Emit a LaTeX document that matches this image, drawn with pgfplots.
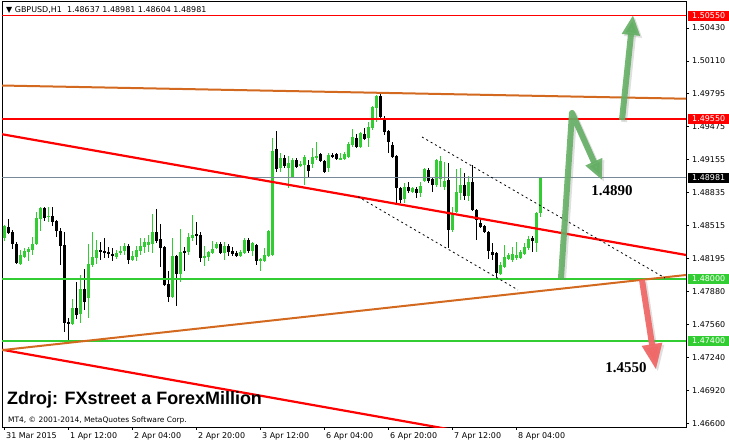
\documentclass[border=0pt]{standalone}
\usepackage{fontspec}
\setmainfont{DejaVu Sans}
\newfontfamily\arialfont{Liberation Sans}
\newfontfamily\timesfont{Liberation Serif}
\usepackage{pgfplots}
\pgfplotsset{compat=1.18}
\usepackage{pgfplotstable}
\usetikzlibrary{arrows.meta}

\definecolor{mtgreen}{RGB}{50,205,50}
\definecolor{mtred}{RGB}{255,0,0}
\definecolor{mtorange}{RGB}{210,105,30}
\definecolor{mtgray}{RGB}{119,136,153}
\definecolor{arrgreen}{RGB}{100,175,100}
\definecolor{arrred}{RGB}{240,105,105}

% GBPUSD H1 bars, bar index i, open high low close
\pgfplotstableread{
i o h l c
0 1.48396 1.48522 1.48366 1.48512
4 1.48143 1.48279 1.48134 1.48231
5 1.48211 1.48299 1.48202 1.48269
6 1.48260 1.48308 1.48172 1.48289
7 1.48279 1.48405 1.48231 1.48337
8 1.48337 1.48648 1.48328 1.48590
9 1.48580 1.48696 1.48463 1.48686
11 1.48599 1.48696 1.48551 1.48609
17 1.47563 1.47805 1.47553 1.47718
19 1.47660 1.48037 1.47572 1.47902
21 1.47814 1.48337 1.47620 1.48143
22 1.48134 1.48454 1.48114 1.48211
23 1.48202 1.48376 1.48143 1.48279
28 1.48211 1.48279 1.48192 1.48250
29 1.48260 1.48318 1.48231 1.48269
30 1.48269 1.48347 1.48231 1.48318
32 1.48182 1.48269 1.48172 1.48221
33 1.48211 1.48318 1.48172 1.48279
34 1.48269 1.48396 1.48231 1.48318
35 1.48308 1.48396 1.48250 1.48357
36 1.48328 1.48425 1.48260 1.48357
37 1.48337 1.48628 1.48250 1.48454
42 1.47824 1.48396 1.47814 1.48221
44 1.48047 1.48483 1.47970 1.48260
46 1.48260 1.48444 1.48231 1.48405
47 1.48396 1.48619 1.48366 1.48425
50 1.48202 1.48318 1.48124 1.48221
51 1.48211 1.48269 1.48172 1.48260
52 1.48250 1.48366 1.48240 1.48289
53 1.48299 1.48357 1.48289 1.48337
55 1.48250 1.48357 1.48182 1.48318
59 1.48221 1.48279 1.48211 1.48260
60 1.48250 1.48396 1.48240 1.48376
62 1.48269 1.48357 1.48221 1.48347
64 1.48172 1.48202 1.48076 1.48192
65 1.48172 1.48299 1.48163 1.48231
66 1.48221 1.48473 1.48211 1.48463
67 1.48231 1.49365 1.48221 1.49238
69 1.49074 1.49219 1.49035 1.49171
71 1.49074 1.49190 1.48881 1.49122
72 1.48987 1.49171 1.48977 1.49151
74 1.49093 1.49141 1.49083 1.49112
75 1.49103 1.49200 1.48910 1.49180
77 1.49112 1.49268 1.49074 1.49180
78 1.49171 1.49326 1.49151 1.49190
81 1.49074 1.49219 1.49035 1.49200
84 1.49161 1.49219 1.49151 1.49171
85 1.49161 1.49229 1.49151 1.49209
86 1.49180 1.49326 1.49171 1.49306
87 1.49297 1.49452 1.49278 1.49374
89 1.49278 1.49423 1.49268 1.49413
91 1.49365 1.49520 1.49278 1.49472
92 1.49462 1.49675 1.49442 1.49665
93 1.49656 1.49782 1.49520 1.49772
100 1.48774 1.48929 1.48735 1.48890
102 1.48842 1.48890 1.48832 1.48881
104 1.48832 1.48939 1.48793 1.48900
105 1.48948 1.49074 1.48939 1.49064
108 1.48910 1.49161 1.48890 1.49151
109 1.48968 1.49190 1.48890 1.49141
110 1.48890 1.49132 1.48861 1.48948
112 1.48473 1.48696 1.48454 1.48638
113 1.48648 1.49064 1.48638 1.48842
114 1.48832 1.49074 1.48764 1.48910
116 1.48803 1.48996 1.48754 1.48939
124 1.48047 1.48163 1.48037 1.48134
125 1.48114 1.48328 1.48105 1.48211
126 1.48192 1.48250 1.48182 1.48231
127 1.48182 1.48308 1.48163 1.48240
128 1.48202 1.48357 1.48182 1.48231
129 1.48202 1.48279 1.48192 1.48260
130 1.48240 1.48347 1.48231 1.48308
131 1.48299 1.48415 1.48279 1.48386
133 1.48347 1.48648 1.48260 1.48638
134 1.48637 1.48981 1.48604 1.48981
}\bulls

\pgfplotstableread{
i o h l c
1 1.48502 1.48580 1.48434 1.48444
2 1.48454 1.48473 1.48289 1.48337
3 1.48337 1.48357 1.48143 1.48153
10 1.48686 1.48696 1.48560 1.48590
12 1.48609 1.48696 1.48512 1.48551
13 1.48560 1.48570 1.48405 1.48463
14 1.48463 1.48493 1.48134 1.48318
15 1.48328 1.48454 1.47485 1.47572
16 1.47582 1.47620 1.47378 1.47563
18 1.47718 1.47970 1.47611 1.47650
20 1.47902 1.48095 1.47698 1.47776
24 1.48279 1.48357 1.48182 1.48260
25 1.48269 1.48396 1.48202 1.48250
26 1.48260 1.48308 1.48202 1.48240
27 1.48240 1.48299 1.48172 1.48221
31 1.48318 1.48337 1.48143 1.48182
38 1.48454 1.48677 1.48347 1.48366
39 1.48386 1.48531 1.48114 1.48299
40 1.48308 1.48318 1.47931 1.47940
41 1.47950 1.48076 1.47776 1.47824
43 1.48221 1.48231 1.47737 1.48047
45 1.48269 1.48308 1.48076 1.48260
48 1.48434 1.48551 1.48328 1.48425
49 1.48425 1.48454 1.48163 1.48202
54 1.48337 1.48357 1.48240 1.48250
56 1.48318 1.48337 1.48221 1.48260
57 1.48269 1.48308 1.48221 1.48240
58 1.48250 1.48269 1.48211 1.48221
61 1.48376 1.48396 1.48250 1.48269
63 1.48328 1.48337 1.48134 1.48172
68 1.49258 1.49432 1.49035 1.49064
70 1.49171 1.49200 1.49074 1.49093
73 1.49151 1.49171 1.49074 1.49083
76 1.49103 1.49151 1.48987 1.49045
79 1.49209 1.49219 1.49132 1.49141
80 1.49141 1.49151 1.49026 1.49035
82 1.49200 1.49219 1.49171 1.49190
83 1.49209 1.49219 1.49151 1.49161
88 1.49365 1.49403 1.49268 1.49278
90 1.49403 1.49462 1.49345 1.49355
94 1.49772 1.49811 1.49559 1.49568
95 1.49559 1.49578 1.49394 1.49423
96 1.49432 1.49442 1.49219 1.49326
97 1.49297 1.49326 1.49171 1.49180
98 1.49190 1.49200 1.48725 1.48881
99 1.48881 1.48890 1.48735 1.48764
101 1.48890 1.48939 1.48832 1.48851
103 1.48871 1.48890 1.48784 1.48832
106 1.49055 1.49074 1.48929 1.48948
107 1.48968 1.48977 1.48842 1.48910
111 1.48958 1.49122 1.48299 1.48473
115 1.48910 1.49026 1.48764 1.48803
117 1.48939 1.49103 1.48657 1.48667
118 1.48667 1.48677 1.48376 1.48570
119 1.48541 1.48570 1.48493 1.48502
120 1.48512 1.48522 1.48444 1.48454
121 1.48454 1.48463 1.48192 1.48269
122 1.48260 1.48347 1.48182 1.48231
123 1.48250 1.48260 1.48018 1.48057
132 1.48396 1.48415 1.48260 1.48366
}\bears

\begin{document}
\begin{tikzpicture}
\useasboundingbox (-2bp,-18bp) rectangle (727bp,427bp);
\begin{axis}[
  at={(0,0)}, anchor=south west,
  scale only axis, width=684bp, height=426bp,
  xmin=-0.5, xmax=170.5, ymin=1.46564, ymax=1.50692,
  clip mode=individual,
  axis line style={line width=0.8bp},
  tick align=outside, xtick pos=bottom, ytick pos=right,
  yticklabel pos=right,
  major tick length=3bp,
  tick style={black, line width=0.6bp},
  scaled ticks=false,
  xtick={0,16,...,128},
  xticklabels={31 Mar 2015,1 Apr 12:00,2 Apr 04:00,2 Apr 20:00,3 Apr 12:00,6 Apr 04:00,6 Apr 20:00,7 Apr 12:00,8 Apr 04:00},
  ytick={1.46600,1.46920,1.47240,1.47560,1.47880,1.48195,1.48515,1.48835,1.49155,1.49475,1.49795,1.50110,1.50430},
  yticklabels={1.46600,1.46920,1.47240,1.47560,1.47880,1.48195,1.48515,1.48835,1.49155,1.49475,1.49795,1.50110,1.50430},
  ticklabel style={font=\fontsize{8}{9.6}\selectfont, inner sep=0pt},
  xticklabel style={anchor=north west, xshift=2bp, yshift=-2bp},
  yticklabel style={anchor=west, xshift=3bp},
]
% wicks
\addplot[draw=none, error bars/.cd, y dir=both, y explicit, error mark=none,
  error bar style={draw=mtgreen, line width=1bp}]
  table[x=i, y expr={(\thisrow{h}+\thisrow{l})/2}, y error expr={(\thisrow{h}-\thisrow{l})/2}] {\bulls};
\addplot[draw=none, error bars/.cd, y dir=both, y explicit, error mark=none,
  error bar style={draw=black, line width=1bp}]
  table[x=i, y expr={(\thisrow{h}+\thisrow{l})/2}, y error expr={(\thisrow{h}-\thisrow{l})/2}] {\bears};
% bodies
\addplot[draw=none, error bars/.cd, y dir=both, y explicit, error mark=none,
  error bar style={draw=mtgreen, line width=3bp}]
  table[x=i, y expr={(\thisrow{o}+\thisrow{c})/2}, y error expr={(\thisrow{c}-\thisrow{o})/2}] {\bulls};
\addplot[draw=none, error bars/.cd, y dir=both, y explicit, error mark=none,
  error bar style={draw=black, line width=3bp}]
  table[x=i, y expr={(\thisrow{o}+\thisrow{c})/2}, y error expr={(\thisrow{o}-\thisrow{c})/2}] {\bears};

% horizontal levels
\addplot[mtred, line width=1.5bp] coordinates {(-0.5,1.50550) (170.5,1.50550)};
\addplot[mtred, line width=2bp] coordinates {(-0.5,1.49550) (170.5,1.49550)};
\addplot[mtgray, line width=0.8bp] coordinates {(-0.5,1.48981) (170.5,1.48981)};
\addplot[mtgreen, line width=2.5bp] coordinates {(-0.5,1.48000) (170.5,1.48000)};
\addplot[mtgreen, line width=2bp] coordinates {(-0.5,1.47400) (170.5,1.47400)};
% trend lines
\addplot[mtorange, line width=2bp] coordinates {(-0.5,1.49873) (170.5,1.49745)};
\addplot[mtred, line width=2.2bp] coordinates {(-0.5,1.49401) (170.5,1.48231)};
\addplot[mtred, line width=2.2bp] coordinates {(-0.5,1.47313) (120,1.46482)};
\addplot[mtorange, line width=2bp] coordinates {(-0.5,1.47309) (170.5,1.48037)};
\addplot[black, line width=0.8bp, dash pattern=on 2bp off 3bp] coordinates {(104.5,1.49374) (165.25,1.48008)};
\addplot[black, line width=0.8bp, dash pattern=on 2bp off 3bp] coordinates {(88.5,1.48796) (128.5,1.47892)};

% arrows with soft shadows
\begin{scope}[line join=round]
\draw[gray, opacity=0.25, line width=6bp, -{Triangle[width=17bp,length=20bp]}, shift={(2bp,-2bp)}]
  (axis cs:139.25,1.48008) -- (axis cs:142,1.49607) -- (axis cs:149.5,1.48958);
\draw[arrgreen, opacity=0.9, line width=6bp, -{Triangle[width=17bp,length=20bp]}]
  (axis cs:139.25,1.48008) -- (axis cs:142,1.49607) -- (axis cs:149.5,1.48958);
\draw[gray, opacity=0.25, line width=6bp, -{Triangle[width=17bp,length=20bp]}, shift={(2bp,-2bp)}]
  (axis cs:154.5,1.49539) -- (axis cs:157.25,1.50556);
\draw[arrgreen, opacity=0.9, line width=6bp, -{Triangle[width=17bp,length=20bp]}]
  (axis cs:154.5,1.49539) -- (axis cs:157.25,1.50556);
\draw[gray, opacity=0.25, line width=6bp, -{Triangle[width=19bp,length=26bp]}, shift={(2bp,-2bp)}]
  (axis cs:159.5,1.47989) -- (axis cs:163,1.47117);
\draw[arrred, opacity=0.95, line width=6bp, -{Triangle[width=19bp,length=26bp]}]
  (axis cs:159.5,1.47989) -- (axis cs:163,1.47117);
\end{scope}

% texts
\node[anchor=west, inner sep=0pt, font=\fontsize{8}{9.6}\selectfont] at (axis cs:0.5,1.50605) {▼ GBPUSD,H1\ \ 1.48637 1.48981 1.48604 1.48981};
\node[inner sep=0pt, font=\timesfont\bfseries\fontsize{15}{18}\selectfont] at (axis cs:152,1.48851) {1.4890};
\node[inner sep=0pt, font=\timesfont\bfseries\fontsize{15}{18}\selectfont] at (axis cs:155.5,1.47136) {1.4550};
\node[anchor=west, inner sep=0pt, font=\arialfont\bfseries\fontsize{18}{21}\selectfont] at (axis cs:0.75,1.46826) {Zdroj: FXstreet a ForexMillion};
\node[anchor=west, inner sep=0pt, font=\fontsize{7.5}{9}\selectfont] at (axis cs:1,1.46632) {MT4, © 2001-2014, MetaQuotes Software Corp.};

% price tags on the right scale
\tikzset{tag/.style={anchor=west, inner sep=0pt, minimum width=41bp, minimum height=10bp, text=white, font=\fontsize{8}{9.6}\selectfont, xshift=2bp}}
\node[tag, fill=mtred] at (axis cs:170.5,1.50550) {1.50550};
\node[tag, fill=mtred] at (axis cs:170.5,1.49550) {1.49550};
\node[tag, fill=black] at (axis cs:170.5,1.48981) {1.48981};
\node[tag, fill=mtgreen] at (axis cs:170.5,1.48000) {1.48000};
\node[tag, fill=mtgreen] at (axis cs:170.5,1.47400) {1.47400};
\end{axis}
\end{tikzpicture}
\end{document}
